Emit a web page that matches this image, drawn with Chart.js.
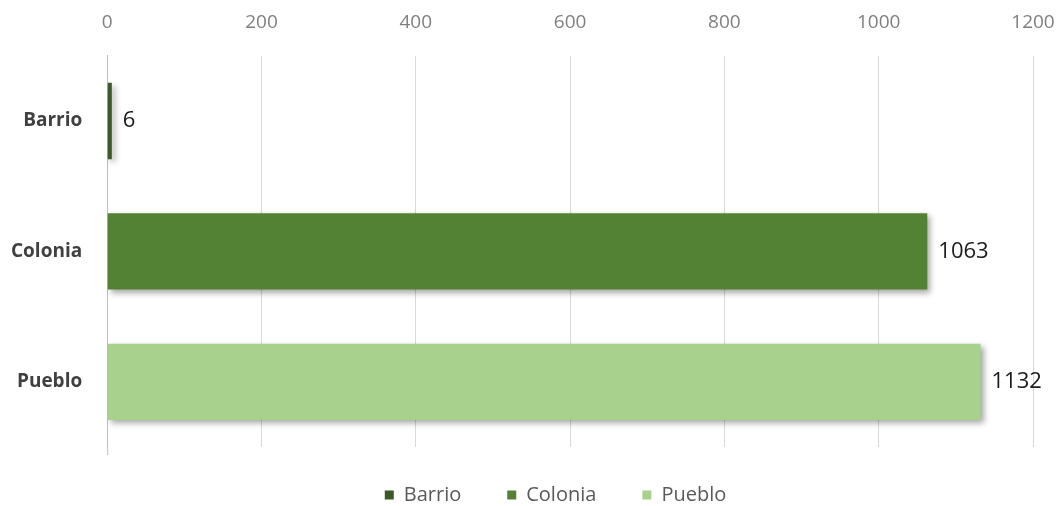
<!DOCTYPE html>
<html>
<head>
<meta charset="utf-8">
<script src="https://cdn.jsdelivr.net/npm/chart.js@4.4.0/dist/chart.umd.min.js"></script>
<style>
  html, body { margin: 0; padding: 0; background: #fff; }
  #wrap { width: 1061px; height: 506px; }
</style>
</head>
<body>
<div id="wrap"><canvas id="canvas" width="1061" height="506"></canvas></div>
<script>
var categories = ["Barrio", "Colonia", "Pueblo"];
var barrioValues = [6, null, null];
var coloniaValues = [null, 1063, null];
var puebloValues = [null, null, 1132];
var tickValues = [0, 200, 400, 600, 800, 1000, 1200];

var fontName = "'Open Sans', 'Noto Sans', sans-serif";

// soft drop shadow under each bar
var shadowPlugin = {
  id: "barShadow",
  beforeDatasetDraw: function (chart) {
    var ctx = chart.ctx;
    ctx.save();
    ctx.shadowColor = "rgba(0,0,0,0.35)";
    ctx.shadowBlur = 6;
    ctx.shadowOffsetX = 3;
    ctx.shadowOffsetY = 3;
  },
  afterDatasetDraw: function (chart) {
    chart.ctx.restore();
  }
};

// value printed just past the end of each bar
var valueLabels = {
  id: "valueLabels",
  afterDatasetsDraw: function (chart) {
    var ctx = chart.ctx;
    ctx.save();
    ctx.font = "22px " + fontName;
    ctx.fillStyle = "#1a1a1a";
    ctx.textAlign = "left";
    ctx.textBaseline = "middle";
    chart.data.datasets.forEach(function (ds, i) {
      var meta = chart.getDatasetMeta(i);
      meta.data.forEach(function (bar, j) {
        var v = ds.data[j];
        if (v === null || v === undefined) return;
        ctx.fillText(String(v), bar.x + 11, bar.y);
      });
    });
    ctx.restore();
  }
};

// short tick under the value axis line, below the plot
var axisFoot = {
  id: "axisFoot",
  afterDraw: function (chart) {
    var ctx = chart.ctx;
    var a = chart.chartArea;
    ctx.save();
    ctx.strokeStyle = "#bfbfbf";
    ctx.lineWidth = 1;
    ctx.beginPath();
    ctx.moveTo(a.left + 0.5, a.bottom);
    ctx.lineTo(a.left + 0.5, a.bottom + 8);
    ctx.stroke();
    ctx.restore();
  }
};

// nudge the legend row a little right and up
var legendNudge = {
  id: "legendNudge",
  afterLayout: function (chart) {
    var lg = chart.legend;
    if (!lg) return;
    lg.left += 32;
    lg.right += 32;
    lg.top -= 8;
    lg.bottom -= 8;
  }
};

var ctx = document.getElementById("canvas").getContext("2d");
var myBar = new Chart(ctx, {
  type: "bar",
  data: {
    labels: categories,
    datasets: [
      { label: "Barrio", data: barrioValues, backgroundColor: "#3a5a28" },
      { label: "Colonia", data: coloniaValues, backgroundColor: "#548235" },
      { label: "Pueblo", data: puebloValues, backgroundColor: "#a9d18e" }
    ]
  },
  options: {
    indexAxis: "y",
    responsive: false,
    animation: false,
    barPercentage: 0.585,
    categoryPercentage: 1,
    layout: { padding: { left: -14, right: 0, top: -11, bottom: -17 } },
    scales: {
      x: {
        position: "top",
        stacked: true,
        min: 0,
        max: 1200,
        afterBuildTicks: function (axis) {
          axis.ticks = tickValues.map(function (v) { return { value: v }; });
        },
        afterFit: function (axis) {
          axis.paddingRight = 28;
        },
        grid: { color: "#d9d9d9", drawTicks: false, lineWidth: 1 },
        border: { display: false },
        ticks: {
          padding: 22,
          color: "#7f7f7f",
          font: { family: fontName, size: 19 },
          callback: function (v) { return String(v); }
        }
      },
      y: {
        stacked: true,
        afterFit: function (axis) {
          axis.paddingTop = 0;
          axis.paddingBottom = 0;
        },
        grid: { display: false, drawTicks: false },
        border: { display: true, color: "#bfbfbf" },
        ticks: {
          padding: 25,
          color: "#404040",
          font: { family: fontName, size: 19, weight: "bold" }
        }
      }
    },
    plugins: {
      legend: {
        position: "bottom",
        labels: {
          boxWidth: 9,
          boxHeight: 9,
          padding: 46,
          color: "#595959",
          font: { family: fontName, size: 20 }
        }
      },
      tooltip: { enabled: false }
    }
  },
  plugins: [shadowPlugin, valueLabels, axisFoot, legendNudge]
});
</script>
</body>
</html>
